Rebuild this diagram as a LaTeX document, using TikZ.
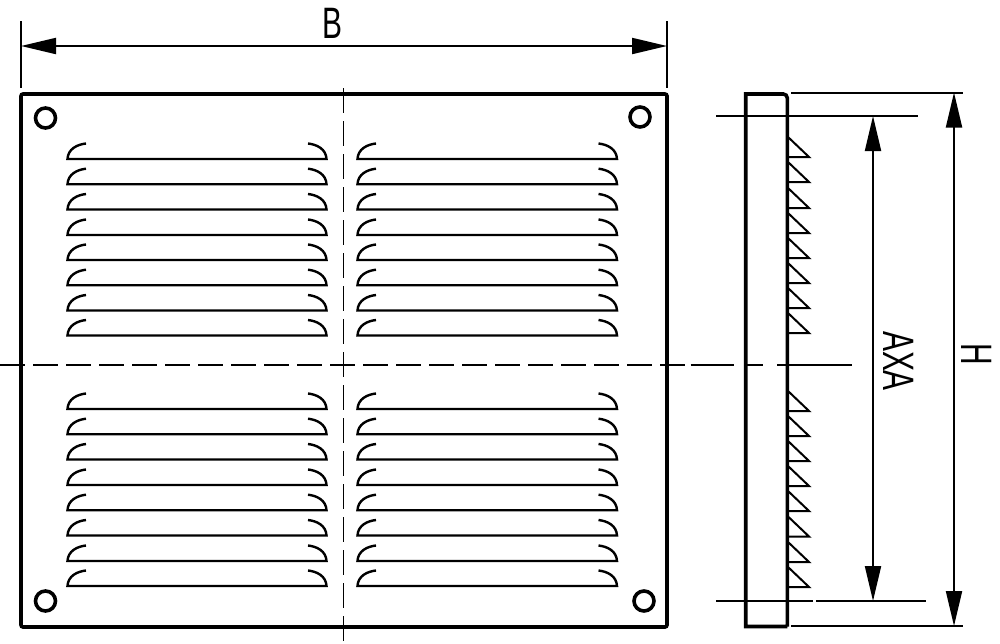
\documentclass[tikz,border=0pt]{standalone}
\usepackage{fontspec}
\setmainfont[FakeStretch=0.68]{Liberation Sans}
\usetikzlibrary{arrows.meta}
\tikzset{
  frameline/.style={line width=1.8pt},
  louvreline/.style={line width=1.2pt},
  thinline/.style={line width=1pt},
  axisline/.style={line width=.9pt,dash pattern=on 12.5pt off 4pt},
  dimline/.style={line width=1pt,{Triangle[length=17.5pt,width=8pt]}-{Triangle[length=17.5pt,width=8pt]}},
  dimtext/.style={font=\fontsize{22}{24}\selectfont,inner sep=0pt}
}
\begin{document}
\begin{tikzpicture}[x=.5pt,y=-.5pt]
  \useasboundingbox (0,0) rectangle (1000,643);
  % Front view
  \draw[frameline,rounded corners=1pt] (21,94) rectangle (667,627);
  \foreach \cx/\cy in {45.5/118,640/117,45.5/601,644/601}
    \draw[frameline] (\cx,\cy) circle (10);
  % Louvres, upper and lower groups
  \foreach \ly in {159,184.2,209.5,235,260,285.2,310.5,335.5,409,434.2,459.5,485,510.2,535.5,561,586}{
    \draw[louvreline] (86,\ly-15.5) .. controls (77,\ly-14.5) and (68,\ly-10) .. (67.5,\ly) -- (326.5,\ly) .. controls (326,\ly-10) and (317,\ly-14.5) .. (308,\ly-15.5);
    \draw[louvreline] (376,\ly-15.5) .. controls (367,\ly-14.5) and (358,\ly-10) .. (357.5,\ly) -- (617,\ly) .. controls (616.5,\ly-10) and (607.5,\ly-14.5) .. (598.5,\ly-15.5);
  }
  % Centre lines
  \draw[axisline] (343.5,88) -- (343.5,643);
  \draw[axisline] (0,365) -- (687,365);
  \draw[thinline] (690.5,365) -- (734,365);
  \draw[thinline] (745,365) -- (763,365);
  \draw[thinline] (777,365) -- (852,365);
  % Side view
  \draw[frameline] (787.3,626.5) [rounded corners=2pt] -- (787.3,94) [sharp corners] -- (745.7,94) -- (745.7,626.5) [rounded corners=2pt] -- (787.3,626.5);
  \foreach \ty in {157,182,208,233,258,283,308,333,411,436,461,486,511,536.5,562,587}
    \draw[thinline] (788,\ty-20) -- (809,\ty) -- (788,\ty);
  % Dimension lines
  \draw[thinline] (21,21) -- (21,88);
  \draw[thinline] (667,21) -- (667,88);
  \draw[dimline] (21,46) -- (667,46);
  \draw[thinline] (791,92.5) -- (963,92.5);
  \draw[thinline] (791,626) -- (963,626);
  \draw[thinline] (716,116) -- (918,116);
  \draw[thinline] (716,601) -- (813,601);
  \draw[thinline] (816,601) -- (926,601);
  \draw[dimline] (873,116) -- (873,601);
  \draw[dimline] (954,92.5) -- (954,626);
  \node[dimtext] (labelB) at (332,23) {B};
  \node[dimtext,rotate=-90] (labelAXA) at (899,361) {AXA};
  \node[dimtext,rotate=-90] (labelH) at (977,354) {H};
\end{tikzpicture}
\end{document}
